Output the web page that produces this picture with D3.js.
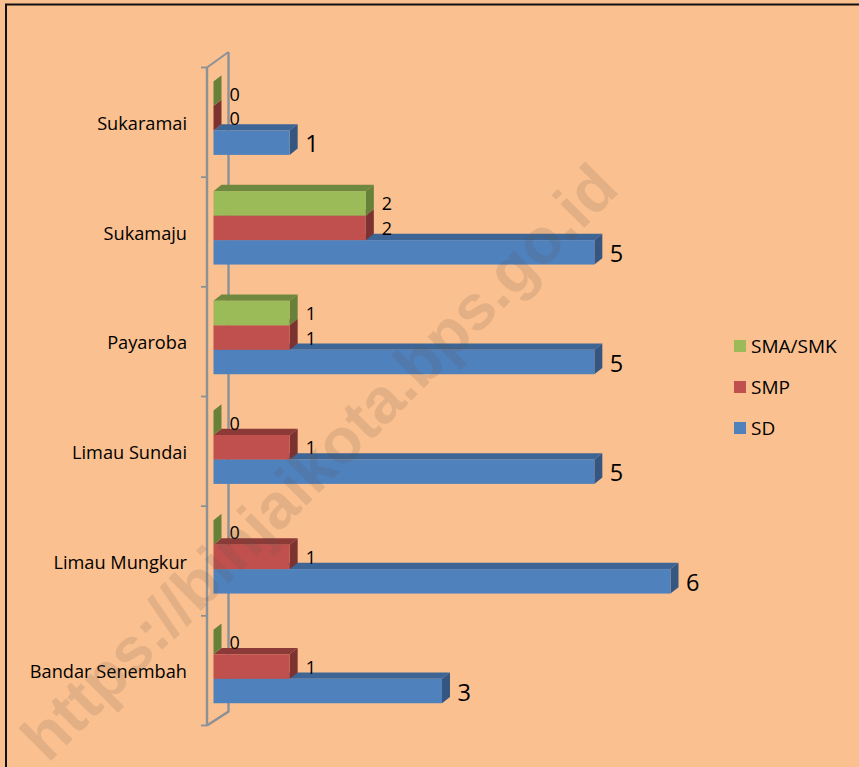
<!DOCTYPE html>
<html><head><meta charset="utf-8">
<script src="https://cdn.jsdelivr.net/npm/d3@7/dist/d3.min.js"></script>
<style>html,body{margin:0;padding:0;background:#fff}svg{display:block}text{font-family:"Open Sans",sans-serif;fill:#000}</style>
</head><body><div id="c"></div>
<script>
const categories=["Bandar Senembah","Limau Mungkur","Limau Sundai","Payaroba","Sukamaju","Sukaramai"];
const seriesNames=["SD","SMP","SMA/SMK"];
const sd=[3,6,5,5,5,1];
const smp=[1,1,1,1,2,0];
const sma=[0,0,0,1,2,0];
const seriesValues=[sd,smp,sma];
const front=["#4f81bd","#c0504d","#9bbb59"];
const top_=["#3d6595","#8c3a38","#6f883f"];
const side=["#345681","#7c3230","#67803a"];
const W=859,H=767,depthX=8,depthY=6.3;
const svg=d3.select("#c").append("svg").attr("width",W).attr("height",H);
svg.append("rect").attr("width",W).attr("height",H).attr("fill","#fbc08f");
svg.append("path").attr("d",`M6,${H}V4.5H${W}`).attr("fill","none").attr("stroke","#111").attr("stroke-width",2);

const x=d3.scaleLinear().domain([0,6]).range([213.5,670.5]);
const y=d3.scaleBand().domain(categories).range([725.5,67.5]);
const s=d3.scaleBand().domain(seriesNames).range([87.4,14]);
const axisColor="#8c9198";
const axisX=207;
const g=svg.append("g");
g.append("path").attr("d",`M${axisX+21.5},${y.range()[1]-15.5}V${y.range()[0]-14}L${axisX},${y.range()[0]}`)
 .attr("fill","none").attr("stroke",axisColor).attr("stroke-width",2.4);
g.append("path").attr("d",`M${axisX},${y.range()[1]}L${axisX+21.5},${y.range()[1]-15.5}`)
 .attr("fill","none").attr("stroke",axisColor).attr("stroke-width",2);
g.append("path").attr("d",`M${axisX},${y.range()[1]}V${y.range()[0]}`)
 .attr("fill","none").attr("stroke",axisColor).attr("stroke-width",2.4);
const tickYs=[...categories.map(c=>y(c)+y.bandwidth()),y.range()[1]];
g.selectAll("line.t").data(tickYs).join("line").attr("class","t")
 .attr("x1",axisX-6).attr("x2",axisX).attr("y1",d=>d).attr("y2",d=>d)
 .attr("stroke",axisColor).attr("stroke-width",1.8);
svg.selectAll("text.cat").data(categories).join("text").attr("class","cat")
 .attr("x",187).attr("y",c=>y(c)+y.bandwidth()/2+7.5).attr("text-anchor","end")
 .attr("font-size",18.2).text(c=>c);
const bars=svg.append("g");
categories.slice().reverse().forEach(c=>{
 const i=categories.indexOf(c);
 seriesNames.forEach((n,k)=>{
  const v=seriesValues[k][i],x0=x(0),x1=x(v),yt=y(c)+s(n),yb=yt+s.bandwidth();
  const gg=bars.append("g");
  gg.append("path").attr("fill",top_[k]).attr("d",`M${x0},${yt}L${x0+depthX},${yt-depthY}H${x1+depthX}L${x1},${yt}Z`);
  gg.append("path").attr("fill",side[k]).attr("d",`M${x1},${yt}L${x1+depthX},${yt-depthY}V${yb-depthY}L${x1},${yb}Z`);
  gg.append("rect").attr("x",x0).attr("y",yt).attr("width",x1-x0).attr("height",s.bandwidth()).attr("fill",front[k]);
 });
});
categories.forEach((c,i)=>{
 seriesNames.forEach((n,k)=>{
  const v=seriesValues[k][i];
  svg.append("text").attr("x",x(v)+(k===0?15.5:16)).attr("y",y(c)+s(n)+s.bandwidth()/2+(k===0?9.5:7))
   .attr("font-size",k===0?23.5:18).text(v);
 });
});
const lg=[["SMA/SMK",2],["SMP",1],["SD",0]];
const ly=d3.scalePoint().domain(lg.map(d=>d[0])).range([346,428]);
lg.forEach(([n,k])=>{
 svg.append("rect").attr("x",734).attr("y",ly(n)-6).attr("width",12).attr("height",12).attr("fill",front[k]);
 svg.append("text").attr("x",751).attr("y",ly(n)+7).attr("font-size",19).text(n);
});
svg.append("text").attr("transform","translate(48,764) rotate(-45)")
 .style("font-family","'Liberation Sans',Arial,sans-serif").style("font-weight","bold").style("fill","#5b4e4c").style("fill-opacity",0.15)
 .attr("font-size",63.7).text("https://binjaikota.bps.go.id");
</script></body></html>
